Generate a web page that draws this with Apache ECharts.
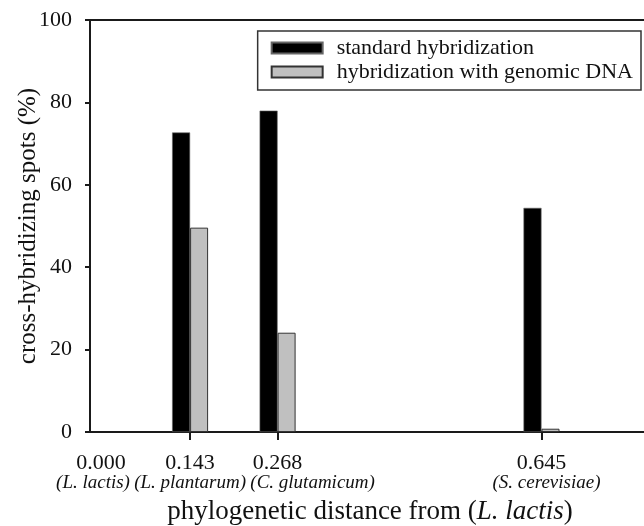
<!DOCTYPE html>
<html>
<head>
<meta charset="utf-8">
<script src="https://cdn.jsdelivr.net/npm/echarts@6/dist/echarts.min.js"></script>
<style>html,body{margin:0;padding:0;background:#fff}#c{width:644px;height:526px}</style>
</head>
<body>
<div id="c"></div>
<script>
// Data
var distances = [0.143, 0.268, 0.645];
var standardHyb = [72.7, 78.0, 54.4];
var genomicHyb = [49.6, 24.1, 0.8];
var seriesNames = ['standard hybridization', 'hybridization with genomic DNA'];
var tickValues = [0, 0.143, 0.268, 0.645];
var tickNumbers = ['0.000', '0.143', '0.268', '0.645'];
var tickSpecies = ['(L. lactis)', '(L. plantarum)', '(C. glutamicum)', '(S. cerevisiae)'];

// Layout-only: horizontal label nudges (px) for number line and species line
var numShift = [11, 0, 0, 0];
var spShift = [3, 0, 35, 5];

var FONT = '"Liberation Serif", "DejaVu Serif", serif';
var AX = '#1a1a1a';

function pairs(xs, ys) { return xs.map(function (x, i) { return [x, ys[i]]; }); }
function pad(s) { return s >= 0 ? [0, 0, 0, 2 * s] : [0, -2 * s, 0, 0]; }

var rich = {};
tickValues.forEach(function (v, i) {
  rich['n' + i] = { fontFamily: FONT, fontSize: 22, color: '#111', lineHeight: 22, padding: pad(numShift[i]) };
  rich['s' + i] = { fontFamily: FONT, fontSize: 19, fontStyle: 'italic', color: '#111', lineHeight: 18, padding: pad(spShift[i]) };
});

var chart = echarts.init(document.getElementById('c'));
chart.setOption({
  animation: false,
  backgroundColor: '#fff',
  grid: { left: 90, top: 20, bottom: 94, right: -6, containLabel: false, outerBoundsMode: 'none',
    show: true, borderColor: AX, borderWidth: 2, backgroundColor: 'transparent' },
  legend: {
    orient: 'vertical', right: 3, top: 31,
    data: seriesNames,
    icon: 'rect', itemWidth: 51, itemHeight: 11, itemGap: 2,
    padding: [6, 8, 7, 13],
    borderColor: '#333', borderWidth: 1.5,
    textStyle: { fontFamily: FONT, fontSize: 22, color: '#111', lineHeight: 22, padding: [0, 0, 0, 9] }
  },
  xAxis: {
    type: 'value', min: 0, max: 0.8,
    name: '{a|phylogenetic distance from (}{b|L. lactis}{a|)}',
    nameLocation: 'middle', nameGap: 66, nameMoveOverlap: false,
    nameTextStyle: { rich: {
      a: { fontFamily: FONT, fontSize: 27, color: '#111' },
      b: { fontFamily: FONT, fontSize: 27, fontStyle: 'italic', color: '#111' }
    } },
    axisLine: { show: true, lineStyle: { color: AX, width: 2 } },
    axisTick: { show: true, customValues: distances, length: 8, inside: false, lineStyle: { color: AX, width: 2 } },
    splitLine: { show: false },
    axisLabel: {
      customValues: tickValues, margin: 20, hideOverlap: false, showMinLabel: true,
      formatter: function (v) {
        var i = -1;
        for (var k = 0; k < tickValues.length; k++) if (Math.abs(tickValues[k] - v) < 1e-6) i = k;
        if (i < 0) return '';
        return '{n' + i + '|' + tickNumbers[i] + '}\n{s' + i + '|' + tickSpecies[i] + '}';
      },
      rich: rich
    }
  },
  yAxis: {
    type: 'value', min: 0, max: 100, interval: 20,
    name: 'cross-hybridizing spots (%)',
    nameLocation: 'middle', nameGap: 49, nameMoveOverlap: false,
    nameTextStyle: { fontFamily: FONT, fontSize: 25, color: '#111' },
    axisLine: { show: true, lineStyle: { color: AX, width: 2 } },
    axisTick: { show: true, length: 5, inside: false, lineStyle: { color: AX, width: 2 } },
    splitLine: { show: false },
    axisLabel: { margin: 18, fontFamily: FONT, fontSize: 22, color: '#111' }
  },
  series: [
    {
      name: seriesNames[0], type: 'bar', barWidth: 18, barGap: '0%',
      data: pairs(distances, standardHyb),
      itemStyle: { color: '#000', borderColor: '#666', borderWidth: 0.6 }
    },
    {
      name: seriesNames[1], type: 'bar', barWidth: 18, barGap: '0%',
      data: pairs(distances, genomicHyb),
      itemStyle: { color: '#c0c0c0', borderColor: '#333', borderWidth: 1 }
    }
  ]
});
</script>
</body>
</html>
